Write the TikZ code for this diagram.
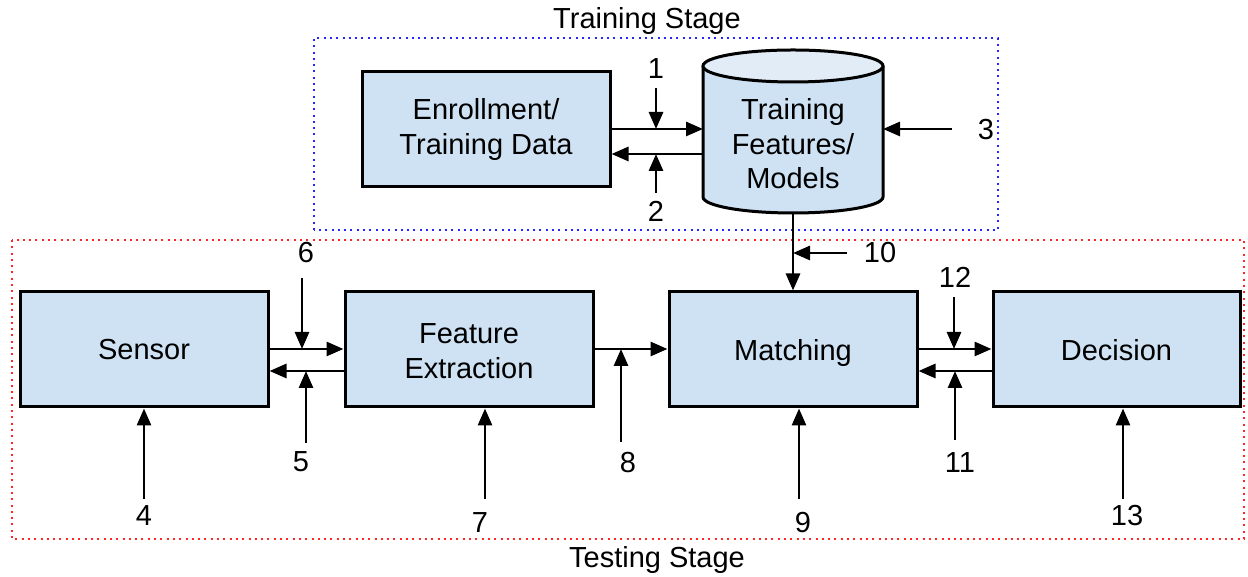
\documentclass[tikz,border=0pt]{standalone}
\usepackage{fontspec}
\setmainfont{Liberation Sans}
\usetikzlibrary{arrows.meta}
\definecolor{boxfill}{HTML}{CFE2F3}
\definecolor{topfill}{HTML}{E1ECF7}
\definecolor{trainblue}{HTML}{2626FF}
\definecolor{testred}{HTML}{FF2626}

\begin{document}
\begin{tikzpicture}[x=1pt,y=1pt,
  every node/.style={font=\fontsize{29}{34.5}\selectfont, inner sep=0pt},
  block/.style={draw=black, line width=3pt, fill=boxfill,
    minimum width=248pt, minimum height=115pt, align=center},
  oneline/.style={text height=21pt, text depth=0pt},
  arr/.style={line width=2.8pt, -{Triangle[length=17pt,width=14pt]}},
  stagebox/.style={line width=2pt, dash pattern=on 2pt off 4.3pt},
  num/.style={anchor=base},
]
\useasboundingbox (0,0) rectangle (1248,577);

% stage frames
\draw[stagebox, draw=trainblue] (314,347) rectangle (998,539);
\draw[stagebox, draw=testred] (12,337) rectangle (1244,38);
\node[anchor=base] (trainlbl) at (647,548) {Training Stage};
\node[anchor=base] (testlbl) at (657,9) {Testing Stage};

% training stage
\node[block] (enr) at (486,447.5) {Enrollment/\\Training Data};

% database cylinder
\node[minimum width=180pt, minimum height=163pt, outer sep=0pt] (db) at (793,445.5) {};
\path[fill=boxfill] (703,511) -- (703,380)
  arc[start angle=180, end angle=360, x radius=90, y radius=16] -- (883,511) -- cycle;
\draw[line width=3pt] (703,511) -- (703,380)
  arc[start angle=180, end angle=360, x radius=90, y radius=16] -- (883,511);
\draw[line width=3pt, fill=topfill] (793,511) ellipse [x radius=90, y radius=16];
\node[align=center] (dbtext) at (793,433) {Training\\Features/\\Models};

% testing stage blocks
\node[block] (sensor) at (144,227.5) {};
\node[oneline] (sensortxt) at (sensor) {Sensor};
\node[block] (fe) at (469,227.5) {};
\node[align=center] (fetxt) at (469,226) {Feature\\Extraction};
\node[block] (match) at (793,227.5) {};
\node[oneline] (matchtxt) at (793,226.5) {Matching};
\node[block, minimum width=247pt] (dec) at (1116.5,227.5) {};
\node[oneline] (dectxt) at (1116.5,226.5) {Decision};

% rows of the horizontal connectors
\coordinate (r1) at (0,448);
\coordinate (r2) at (0,423);
\coordinate (r3) at (0,228);
\coordinate (r4) at (0,206);

\draw[arr] (enr.east |- r1) -- (db.west |- r1);
\draw[arr] (db.west |- r2) -- (enr.east |- r2);
\draw[arr] (db.south) -- (match.north);

\draw[arr] (sensor.east |- r3) -- (fe.west |- r3);
\draw[arr] (fe.west |- r4) -- (sensor.east |- r4);
\draw[arr] (fe.east |- r3) -- (match.west |- r3);
\draw[arr] (match.east |- r3) -- (dec.west |- r3);
\draw[arr] (dec.west |- r4) -- (match.east |- r4);

% numbered attack points
\coordinate (s1) at (656,489);
\coordinate (s2) at (656,384);
\coordinate (s3) at (952,448);
\coordinate (s4) at (144,78);
\coordinate (s5) at (306,134);
\coordinate (s6) at (302,299);
\coordinate (s7) at (485,78);
\coordinate (s8) at (621,135);
\coordinate (s9) at (799,78);
\coordinate (s10) at (847,324);
\coordinate (s11) at (955,137);
\coordinate (s12) at (954,280);
\coordinate (s13) at (1123,78);

\draw[arr] (s1) -- (s1 |- r1);
\draw[arr] (s2) -- (s2 |- r2);
\draw[arr] (s3) -- (db.east |- s3);
\draw[arr] (s4) -- (s4 |- sensor.south);
\draw[arr] (s5) -- (s5 |- r4);
\draw[arr] (s6) -- (s6 |- r3);
\draw[arr] (s7) -- (s7 |- fe.south);
\draw[arr] (s8) -- (s8 |- r3);
\draw[arr] (s9) -- (s9 |- match.south);
\draw[arr] (s10) -- (db.south |- s10);
\draw[arr] (s11) -- (s11 |- r4);
\draw[arr] (s12) -- (s12 |- r3);
\draw[arr] (s13) -- (s13 |- dec.south);

\node[num] (l1) at (656,498) {1};
\node[num] (l2) at (656,355) {2};
\node[num] (l3) at (986,437) {3};
\node[num] (l4) at (144,51) {4};
\node[num] (l5) at (301,105) {5};
\node[num] (l6) at (306,314) {6};
\node[num] (l7) at (480,44) {7};
\node[num] (l8) at (628,104) {8};
\node[num] (l9) at (803,44) {9};
\node[num] (l10) at (880,314) {10};
\node[num] (l11) at (960,104) {11};
\node[num] (l12) at (955,289) {12};
\node[num] (l13) at (1127,51) {13};
\end{tikzpicture}
\end{document}
